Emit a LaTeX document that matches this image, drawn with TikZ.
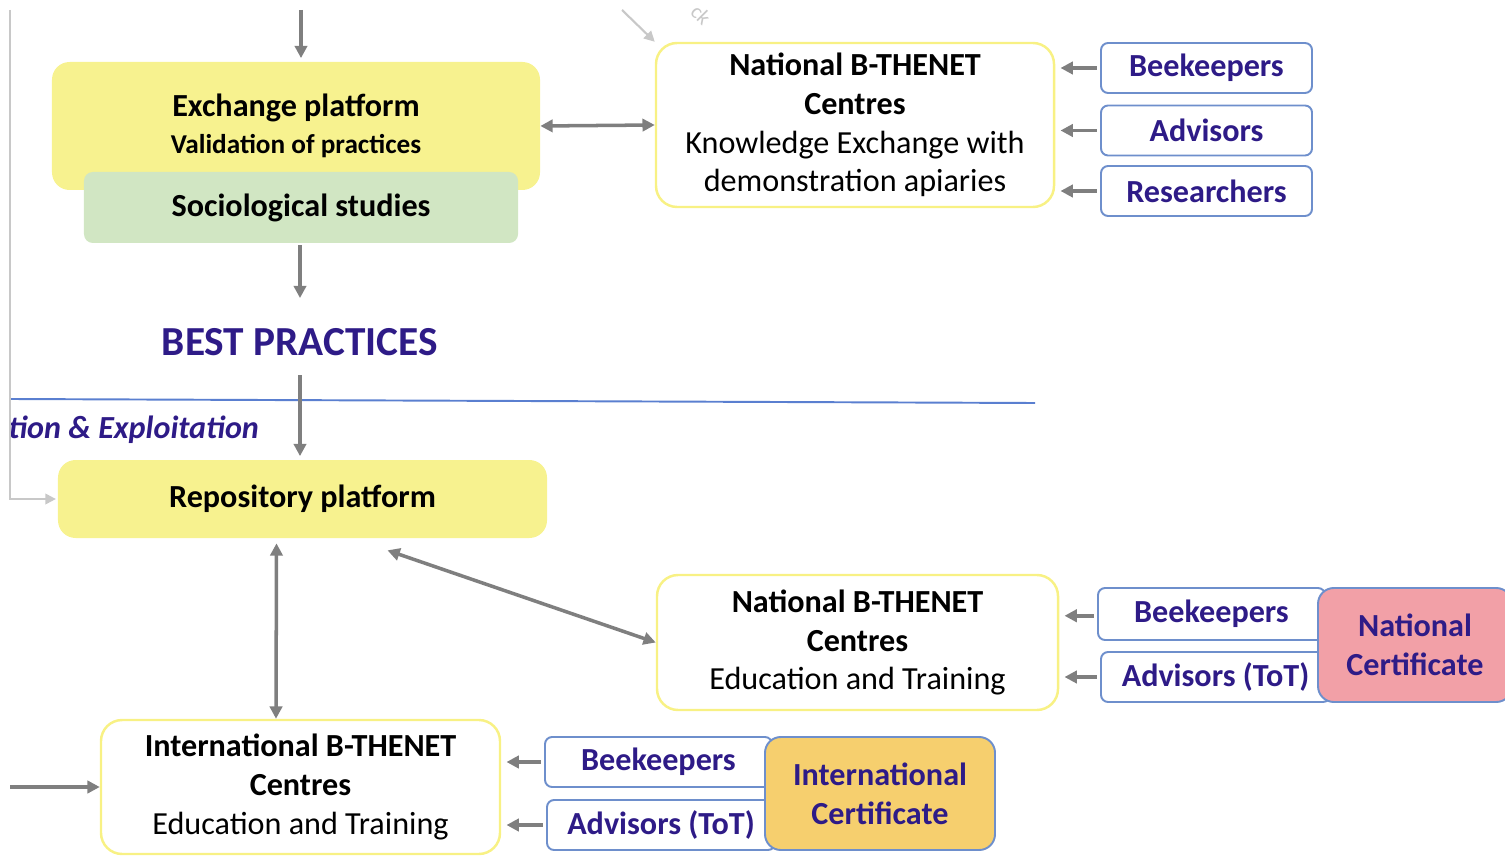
\documentclass[tikz,border=0pt]{standalone}
\usepackage{fontspec}
\setmainfont{Carlito}
\usetikzlibrary{arrows.meta}

\definecolor{platyellow}{HTML}{F7F28F}
\definecolor{sociogreen}{HTML}{D1E6C3}
\definecolor{rimyellow}{HTML}{F8F184}
\definecolor{rimblue}{HTML}{6E8FCC}
\definecolor{inkblue}{HTML}{2E1B87}
\definecolor{certpink}{HTML}{F2A0A7}
\definecolor{certgold}{HTML}{F6CF6E}
\definecolor{flowgray}{HTML}{7F7F7F}
\definecolor{ghostgray}{HTML}{C8C8C8}
\definecolor{rulerblue}{HTML}{5A7FD0}

\newcommand{\txt}{\fontsize{18.3}{22.1}\selectfont}

\tikzset{
  every node/.style={font=\txt, inner sep=0pt},
  platform/.style={fill=platyellow, rounded corners=10pt, align=center, font=\txt\bfseries},
  studies/.style={fill=sociogreen, rounded corners=5pt, font=\txt\bfseries},
  centre/.style={draw=rimyellow, line width=1.4pt, fill=white, rounded corners=12pt, align=center},
  actor/.style={draw=rimblue, line width=1.1pt, fill=white, rounded corners=4pt, text=inkblue, font=\txt\bfseries},
  cert/.style={draw=rimblue, line width=1.1pt, rounded corners=9pt, text=inkblue, align=center, font=\txt\bfseries},
  flow/.style={draw=flowgray, line width=2pt, -{Triangle[length=7pt,width=7pt]}},
  twoway/.style={flow, {Triangle[length=7pt,width=7pt]}-{Triangle[length=7pt,width=7pt]}},
  feed/.style={flow, shorten <=2pt, shorten >=3pt},
  faint/.style={draw=ghostgray, line width=1.2pt, -{Triangle[length=6pt,width=6pt]}},
}

\begin{document}
\begin{tikzpicture}[x=0.2mm, y=-0.2mm]
\useasboundingbox (0,0) rectangle (1505,856);

% upper half
\node[platform, minimum width=9.76cm, minimum height=2.56cm] (exch) at (296,126)
  {Exchange platform\\[-1pt]{\fontsize{15.5}{18}\selectfont Validation of practices}};
\node[studies, minimum width=8.68cm, minimum height=1.42cm] (socio) at (301,207.5) {Sociological studies};
\node[text=inkblue, font=\fontsize{23.5}{28}\selectfont\bfseries, inner ysep=11pt] (best) at (300,342) {BEST PRACTICES};

\node[centre, minimum width=7.96cm, minimum height=3.28cm] (ntop) at (855,125)
  {\textbf{National B-THENET}\\\textbf{Centres}\\Knowledge Exchange with\\demonstration apiaries};
\node[actor, minimum width=4.22cm, minimum height=1cm] (beek1) at (1206.5,68) {Beekeepers};
\node[actor, minimum width=4.22cm, minimum height=1cm] (adv1) at (1206.5,130.5) {Advisors};
\node[actor, minimum width=4.22cm, minimum height=1cm] (res1) at (1206.5,191) {Researchers};

\node[text=ghostgray, rotate=-45, font=\fontsize{12}{14}\selectfont] (fbtag) at (701,15) {ck};

% separator
\coordinate (sepL) at (10,399);
\coordinate (sepR) at (1035,403);
\draw[rulerblue, line width=1.1pt] (sepL) -- (sepR);
\node[anchor=west, text=inkblue, font=\txt\bfseries\itshape] (dissem) at (8,430) {tion \& Exploitation};

% lower half
\node[platform, minimum width=9.78cm, minimum height=1.56cm] (repo) at (302.5,499) {Repository platform};

\node[centre, minimum width=8.02cm, minimum height=2.7cm] (nbot) at (857.5,642.5)
  {\textbf{National B-THENET}\\\textbf{Centres}\\Education and Training};
\node[actor, minimum width=4.54cm, minimum height=1.04cm] (beek2) at (1211.5,614) {Beekeepers};
\node[actor, minimum width=4.58cm, minimum height=1cm] (adv2) at (1215.5,677) {Advisors (ToT)};
\node[cert, fill=certpink, minimum width=3.88cm, minimum height=2.28cm] (ncert) at (1415,645) {National\\Certificate};

\node[centre, minimum width=7.98cm, minimum height=2.68cm] (intl) at (300.5,787)
  {\textbf{International B-THENET}\\\textbf{Centres}\\Education and Training};
\node[actor, minimum width=4.54cm, minimum height=1cm] (beek3) at (658.5,762) {Beekeepers};
\node[actor, minimum width=4.56cm, minimum height=1cm] (adv3) at (661,825) {Advisors (ToT)};
\node[cert, fill=certgold, minimum width=4.6cm, minimum height=2.26cm] (icert) at (880,793.5) {International\\Certificate};

% free ends
\coordinate (topin) at (301,10);
\coordinate (lhs) at (10,10);
\coordinate (fbk) at (622,10);
\coordinate (lin) at (10,787);

% connectors
\draw[flow, shorten >=2pt] (topin) -- (topin |- exch.north);
\draw[flow, shorten <=1pt, shorten >=6pt] (socio.south -| best) -- (best.north);
\draw[flow, shorten >=2pt] (best.south) -- (repo.north -| best);
\draw[twoway] (exch.east) -- (ntop.west);
\draw[faint] (fbk) -- (ntop.north west);
\draw[faint, shorten >=1pt] (lhs) |- (repo.west);

\draw[feed] (beek1.west) -- (beek1.west -| ntop.east);
\draw[feed] (adv1.west) -- (adv1.west -| ntop.east);
\draw[feed] (res1.west) -- (res1.west -| ntop.east);

\draw[twoway] ([shift={(-26,5)}]repo.south) -- ([shift={(-24.5,0)}]intl.north);
\draw[twoway] ([shift={(85,12)}]repo.south) -- (nbot.west);

\draw[feed] ([yshift=-1pt]beek2.west) -- ([yshift=-1pt]beek2.west -| nbot.east);
\draw[feed] (adv2.west) -- (adv2.west -| nbot.east);

\draw[flow] (lin) -- (intl.west);
\draw[feed] (beek3.west) -- (beek3.west -| intl.east);
\draw[feed] (adv3.west) -- (adv3.west -| intl.east);
\end{tikzpicture}
\end{document}
